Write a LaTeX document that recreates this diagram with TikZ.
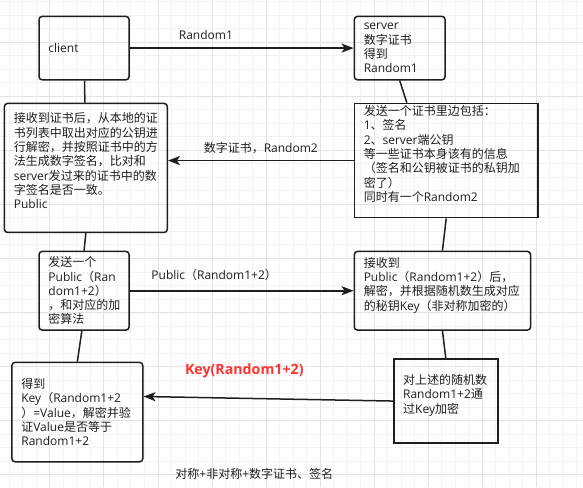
\documentclass[tikz,border=0pt]{standalone}
\usepackage{fontspec}
\setmainfont{Open Sans}
\newfontfamily\latinfont{Open Sans}
\newfontfamily\cjkfont{Noto Sans CJK SC}
\XeTeXinterchartokenstate=1
\newXeTeXintercharclass\cjkclass
\newcount\cjkcode
\cjkcode="3000
\loop
	\XeTeXcharclass\cjkcode=\cjkclass
	\advance\cjkcode by 1
\ifnum\cjkcode<"A000 \repeat
\cjkcode="FF00
\loop
	\XeTeXcharclass\cjkcode=\cjkclass
	\advance\cjkcode by 1
\ifnum\cjkcode<"FFF0 \repeat
\XeTeXinterchartoks 0 \cjkclass = {\cjkfont}
\XeTeXinterchartoks 4095 \cjkclass = {\cjkfont}
\XeTeXinterchartoks \cjkclass 0 = {\latinfont}
\XeTeXinterchartoks 4095 0 = {\latinfont}
\usepackage{tikz}
\usetikzlibrary{arrows.meta}
\definecolor{inkgray}{RGB}{30,30,30}
\definecolor{gridminor}{RGB}{242,242,242}
\definecolor{gridmajor}{RGB}{226,226,226}
\definecolor{keyred}{RGB}{255,51,51}

\begin{document}
\begin{tikzpicture}[x=1pt,y=-1pt,
	every node/.style={font=\fontsize{12}{14.3}\selectfont, text=inkgray},
	box/.style={draw=inkgray, line width=1.5pt, rounded corners=3pt, anchor=north west, align=left, inner xsep=9.4pt, inner ysep=2pt},
	sqbox/.style={box, sharp corners},
	link/.style={draw=inkgray, line width=1.5pt},
	msg/.style={link, -{Stealth[length=12pt,width=9pt,inset=3pt]}},
	lbl/.style={inner sep=0pt},
	gridline/.style={draw=gridminor, line width=0.8pt},
	gridbold/.style={draw=gridmajor, line width=0.8pt}]

	\useasboundingbox (0,0) rectangle (583,487);

	\foreach \i in {0,...,42}
		\draw[gridline] (9.3+13.51*\i,0) -- (9.3+13.51*\i,487);
	\foreach \j in {0,...,35}
		\draw[gridline] (0,1.7+13.51*\j) -- (583,1.7+13.51*\j);
	\foreach \i in {3,7,...,39}
		\draw[gridbold] (9.3+13.51*\i,0) -- (9.3+13.51*\i,487);
	\foreach \j in {3,7,...,35}
		\draw[gridbold] (0,1.7+13.51*\j) -- (583,1.7+13.51*\j);

	\node[box, minimum width=90pt, minimum height=63.3pt, text width=71.2pt] (cli) at (38.3,15.7) {client};
	\node[box, minimum width=90.7pt, minimum height=63.3pt, text width=71.9pt] (srv) at (353.6,15.7) {server\\数字证书\\得到\\Random1};

	\node[box, minimum width=162.8pt, minimum height=129pt, text width=144pt] (recv) at (3.7,102.7) {接收到证书后，从本地的证\\书列表中取出对应的公钥进\\行解密，并按照证书中的方\\法生成数字签名，比对和\\server发过来的证书中的数\\字签名是否一致。\\Public\\ \mbox{}};
	\node[sqbox, minimum width=183.7pt, minimum height=111.6pt, text width=164.9pt] (cert) at (353.6,102.7) {发送一个证书里边包括：\\1、签名\\2、server端公钥\\等一些证书本身该有的信息\\（签名和公钥被证书的私钥加\\密了）\\同时有一个Random2\\ \mbox{}};

	\node[box, minimum width=90pt, minimum height=78.6pt, text width=71.2pt] (send) at (38.3,250.7) {发送一个\\Public（Ran\\dom1+2）\\，和对应的加\\密算法};
	\node[box, minimum width=176.2pt, minimum height=78.6pt, text width=157.4pt] (dec) at (353.6,250.7) {接收到\\Public（Random1+2）后，\\解密，并根据随机数生成对应\\的秘钥Key（非对称加密的）\\ \mbox{}};

	\node[box, minimum width=130.8pt, minimum height=99.3pt, text width=112pt] (get) at (11.2,361.7) {得到\\Key（Random1+2\\）=Value，解密并验\\证Value是否等于\\Random1+2};
	\node[sqbox, minimum width=104.1pt, minimum height=84pt, text width=85.3pt] (enc) at (393,358.3) {对上述的随机数\\Random1+2通\\过Key加密\\ \mbox{}};

	\draw[link] (cli) -- (recv);
	\draw[link] (recv.south) -- (send.north);
	\draw[link] ([xshift=-2.2pt]send.south) -- (get.north);
	\draw[link] (srv.south) -- ([xshift=-39.4pt]cert.north);
	\draw[link] (cert.south) -- (dec.north);
	\draw[link] (dec.south) -- (enc.north);

	\draw[msg] (cli.east) -- node[lbl, pos=.34, yshift=13.4pt] {Random1} (srv.west);
	\draw[msg] (cert.west) -- node[lbl, pos=.5, yshift=12.3pt] {数字证书，Random2} (cert.west -| recv.east);
	\draw[msg] (send.east) -- node[lbl, pos=.377, yshift=16pt] {Public（Random1+2）} (dec.west);
	\draw[msg] (enc.west) -- node[lbl, pos=.596, yshift=27.7pt, text=keyred, font=\fontsize{14.2}{17}\selectfont\bfseries] {Key(Random1+2)} ([yshift=15.6pt]get.east);

	\node[lbl] (cap) at (254.3,474) {对称+非对称+数字证书、签名};

\end{tikzpicture}
\end{document}
